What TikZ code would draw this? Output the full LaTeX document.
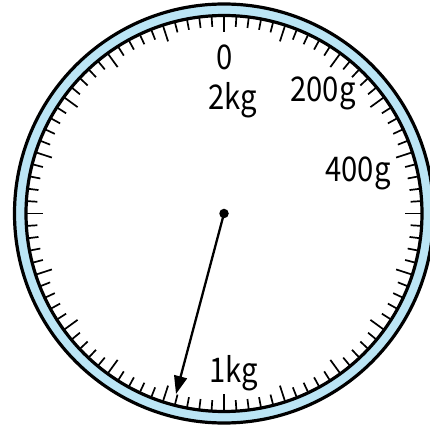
\documentclass[tikz,border=0pt]{standalone}
\usepackage{fontspec}
\setmainfont[FakeStretch=0.86]{Noto Sans CJK JP}
\usetikzlibrary{arrows.meta}
\definecolor{ringblue}{RGB}{187,229,245}
\tikzset{
  ringline/.style={line width=3.2pt, draw=black},
  tickmark/.style={line width=1.7pt, line cap=butt},
  dial label/.style={anchor=base, inner sep=0pt, font=\fontsize{34}{34}\selectfont},
  needle/.style={line width=2.3pt, -{Triangle[length=18pt,width=13pt]}}
}
\begin{document}
\begin{tikzpicture}[x=1pt,y=1pt]
  \useasboundingbox (-224,-216.5) rectangle (206,213.5);
  \clip (-224,-216.5) rectangle (206,213.5);
  % ring
  \fill[ringblue, even odd rule] (0,0) circle (209.5) (0,0) circle (198);
  \draw[ringline] (0,0) circle (209.5);
  \draw[ringline] (0,0) circle (198);
  % ticks
  \foreach \i in {0,...,99} {
    \pgfmathsetmacro{\ang}{90-3.6*\i}
    \pgfmathtruncatemacro{\m}{mod(\i,5)}
    \ifnum\m=0
      \draw[tickmark] (\ang:197) -- (\ang:181);
    \else
      \draw[tickmark] (\ang:197) -- (\ang:187);
    \fi
  }
  % labels
  \node[dial label] (l0) at (0.5,143.5) {0};
  \node[dial label] (l2kg) at (9,103.5) {2kg};
  \node[dial label] (l200) at (99,111.5) {200g};
  \node[dial label] (l400) at (134,31.5) {400g};
  \node[dial label] (l1kg) at (10,-168.5) {1kg};
  % needle
  \node[circle, fill=black, inner sep=0pt, minimum size=9.5pt] (hub) at (0,0) {};
  \coordinate (tip) at (-48,-180.5);
  \draw[needle] (hub.center) -- (tip);
\end{tikzpicture}
\end{document}
